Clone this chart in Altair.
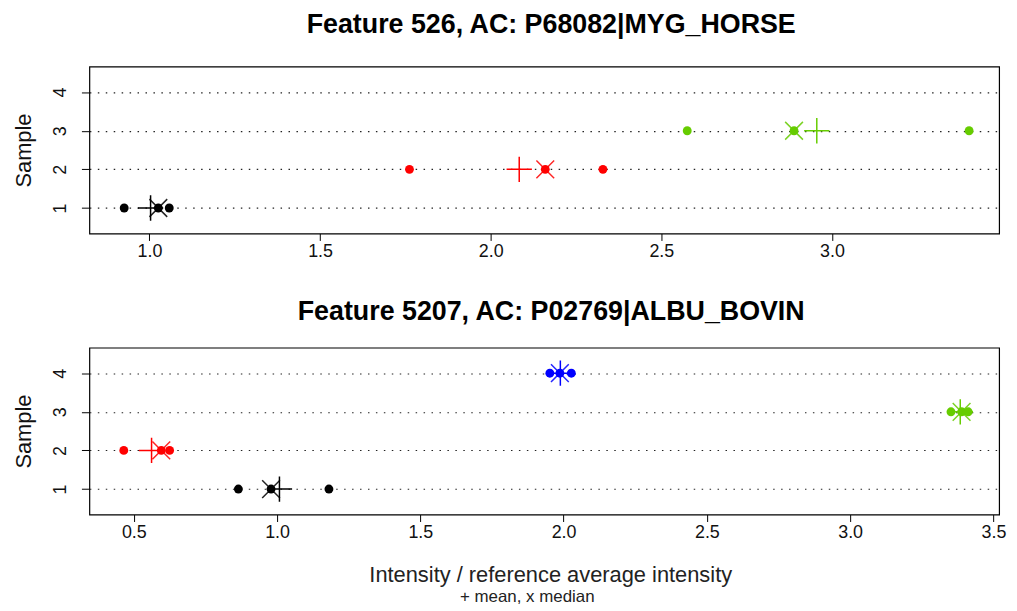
import altair as alt
import pandas as pd

# ---- data ----
top_samples = [1, 1, 1, 2, 2, 2, 3, 3, 3]
top_values = [0.926, 1.026, 1.058, 1.762, 2.160, 2.329, 2.576, 2.889, 3.402]

bottom_samples = [1, 1, 1, 2, 2, 2, 3, 3, 3, 4, 4, 4]
bottom_values = [0.865, 0.979, 1.181, 0.465, 0.596, 0.625,
                 3.352, 3.389, 3.412, 1.952, 1.987, 2.027]

sample_levels = [1, 2, 3, 4]
sample_colors = ["#000000", "#FF0000", "#66CC00", "#0000FF"]

top_title = "Feature 526, AC: P68082|MYG_HORSE"
bottom_title = "Feature 5207, AC: P02769|ALBU_BOVIN"
x_title = "Intensity / reference average intensity"
x_subtitle = "+ mean, x median"

top_xticks = [1.0, 1.5, 2.0, 2.5, 3.0]
bottom_xticks = [0.5, 1.0, 1.5, 2.0, 2.5, 3.0, 3.5]
top_xdomain = [0.824, 3.49]
bottom_xdomain = [0.345, 3.52]
ydomain = [0.34, 4.66]

FONT = "Liberation Sans"
PLUS = "M-1,0L1,0M0,-1L0,1"
CROSS = "M-1,-1L1,1M-1,1L1,-1"
PANEL_W = 916
PANEL_H = 168


def panel(samples, values, title_text, xdomain, xticks, title_offset,
          xtitle=None):
    df = pd.DataFrame({"sample": samples, "value": values})
    base = alt.Chart(df)
    axis_kw = dict(values=xticks, format=".1f", grid=False,
                   domain=False, tickSize=7, tickColor="black",
                   labelFont=FONT, labelFontSize=18, labelColor="#111111",
                   labelPadding=2)
    if xtitle is not None:
        xaxis = alt.Axis(title=xtitle, titleFont=FONT, titleFontSize=22,
                         titleFontWeight="normal", titleColor="#222222",
                         titlePadding=23, titleX=PANEL_W / 2 + 6,
                         titleAlign="center", **axis_kw)
    else:
        xaxis = alt.Axis(title=None, **axis_kw)
    xscale = alt.Scale(domain=xdomain, nice=False, zero=False)
    yaxis = alt.Axis(values=sample_levels, format="d", title="Sample",
                     grid=True, gridDash=[1.5, 6.5], gridColor="#222222",
                     gridWidth=1.2, domain=False, tickSize=8,
                     tickColor="black",
                     labelFont=FONT, labelFontSize=18, labelColor="#111111",
                     labelAngle=270, labelAlign="center",
                     labelBaseline="bottom",
                     labelPadding=12, titleFont=FONT, titleFontSize=22,
                     titleFontWeight="normal", titleColor="#111111",
                     titlePadding=16)
    yscale = alt.Scale(domain=ydomain, nice=False, zero=False)
    color = alt.Color("sample:N", scale=alt.Scale(domain=sample_levels,
                                                  range=sample_colors),
                      legend=None)

    dots = base.mark_circle(size=80, opacity=1).encode(
        x=alt.X("value:Q", scale=xscale, axis=xaxis),
        y=alt.Y("sample:Q", scale=yscale, axis=yaxis),
        color=color,
    )
    stats = base.transform_aggregate(
        mean="mean(value)", median="median(value)", groupby=["sample"]
    )
    means = stats.mark_point(shape=PLUS, size=650, filled=False,
                             strokeWidth=1.5, opacity=1).encode(
        x=alt.X("mean:Q", scale=xscale, axis=xaxis),
        y=alt.Y("sample:Q", scale=yscale, axis=yaxis),
        color=color,
    )
    medians = stats.mark_point(shape=CROSS, size=320, filled=False,
                               strokeWidth=1.5, opacity=0.85).encode(
        x=alt.X("median:Q", scale=xscale, axis=xaxis),
        y=alt.Y("sample:Q", scale=yscale, axis=yaxis),
        color=color,
    )
    return alt.layer(dots, means, medians).properties(
        width=PANEL_W, height=PANEL_H,
        title=alt.TitleParams(text=title_text, font=FONT, fontSize=27,
                              fontWeight="bold", color="black",
                              anchor="middle", frame="group",
                              offset=title_offset, dx=7),
    )


top = panel(top_samples, top_values, top_title, top_xdomain, top_xticks, 28)
bottom = panel(bottom_samples, bottom_values, bottom_title, bottom_xdomain,
               bottom_xticks, 22, xtitle=x_title)

chart = alt.vconcat(top, bottom, spacing=36).properties(
    title=alt.TitleParams(text=x_subtitle, orient="bottom",
                          anchor="middle", font=FONT, fontSize=17,
                          fontWeight="normal", color="#222222",
                          offset=3, dx=18),
    padding={"left": 12, "top": 8, "right": 10, "bottom": 0},
).configure_view(stroke="black", strokeWidth=1.2)

chart.save("out.html", embed_options={"renderer": "svg", "actions": False})
